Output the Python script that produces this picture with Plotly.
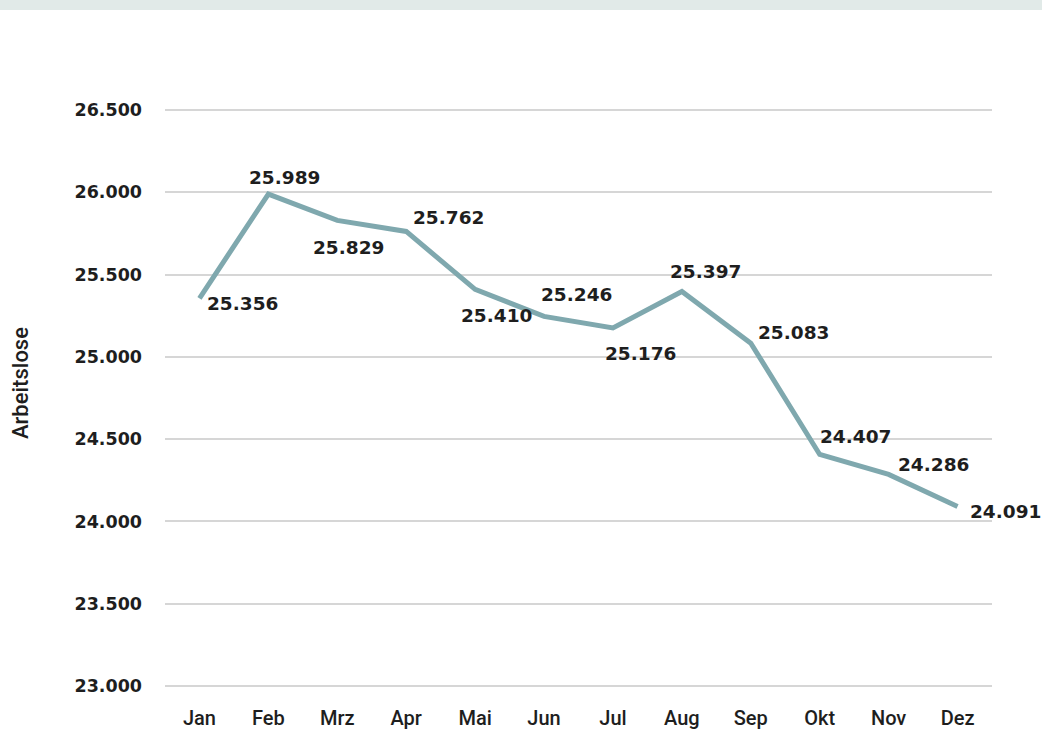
import plotly.graph_objects as go

# Monthly count of unemployed persons
months = ["Jan", "Feb", "Mrz", "Apr", "Mai", "Jun", "Jul", "Aug", "Sep", "Okt", "Nov", "Dez"]
arbeitslose = [25356, 25989, 25829, 25762, 25410, 25246, 25176, 25397, 25083, 24407, 24286, 24091]
y_ticks = [23000, 23500, 24000, 24500, 25000, 25500, 26000, 26500]

# pixel offsets of each value label (left edge / vertical centre) from its point
label_dx = [6, -21, -26, 5, -16, -5, -10, -14, 5, -2, 7, 10]
label_dy = [-5, 17, -27, 14, -26, 22, -26, 20, 11, 18, 10, -5]


def de_fmt(v):
    return f"{v:,}".replace(",", ".")


LINE = "#7fa8ae"
W, H = 1042, 747
# plot area padded by 4 px above 26.500 and below 23.000 so the edge gridlines show
PAD = 4
ML, MR, MT, MB = 165, 50, 110 - PAD, 61 - PAD
pw, ph = W - ML - MR, H - MT - MB
per_px = 3500 / (ph - 2 * PAD)
y_range = [23000 - PAD * per_px, 26500 + PAD * per_px]

COND = dict(family="Liberation Sans Narrow, Roboto, sans-serif", weight=500, color="#1e1e1e")

fig = go.Figure()
fig.add_trace(go.Scatter(
    x=months, y=arbeitslose, mode="lines",
    line=dict(color=LINE, width=5),
    hoverinfo="skip", showlegend=False,
))

for m, v, dx, dy in zip(months, arbeitslose, label_dx, label_dy):
    fig.add_annotation(
        x=m, y=v, text=de_fmt(v), showarrow=False,
        xanchor="left", yanchor="middle", xshift=dx, yshift=dy,
        font=dict(family="DejaVu Sans", size=18.5, color="#1e1e1e", weight="bold"),
    )

# axis title
fig.add_annotation(
    xref="paper", yref="paper", x=(20 - ML) / pw, y=1 - (383 - MT) / ph,
    text="Arbeitslose", showarrow=False, textangle=-90,
    xanchor="center", yanchor="middle",
    font=dict(size=22, **COND),
)

# header band
fig.add_shape(
    type="rect", xref="paper", yref="paper",
    x0=-ML / pw, x1=1 + MR / pw, y0=1 + (MT - 10) / ph, y1=1 + MT / ph,
    fillcolor="#e1eae8", line=dict(width=0), layer="below",
)

fig.update_layout(
    width=W, height=H,
    margin=dict(l=ML, r=MR, t=MT, b=MB),
    paper_bgcolor="white", plot_bgcolor="white",
    xaxis=dict(
        type="category", range=[-0.5, 11.5], showgrid=False, zeroline=False,
        showline=False, ticks="", ticklabelstandoff=14,
        tickfont=dict(size=20, **COND),
    ),
    yaxis=dict(
        range=y_range, tickvals=y_ticks,
        ticktext=[de_fmt(t) for t in y_ticks],
        showgrid=True, gridcolor="#d6d6d6", gridwidth=2,
        zeroline=False, showline=False, ticks="", ticklabelstandoff=22,
        tickfont=dict(family="DejaVu Sans", size=17.5, color="#1e1e1e", weight="bold"),
    ),
)

fig.write_html("out.html")
